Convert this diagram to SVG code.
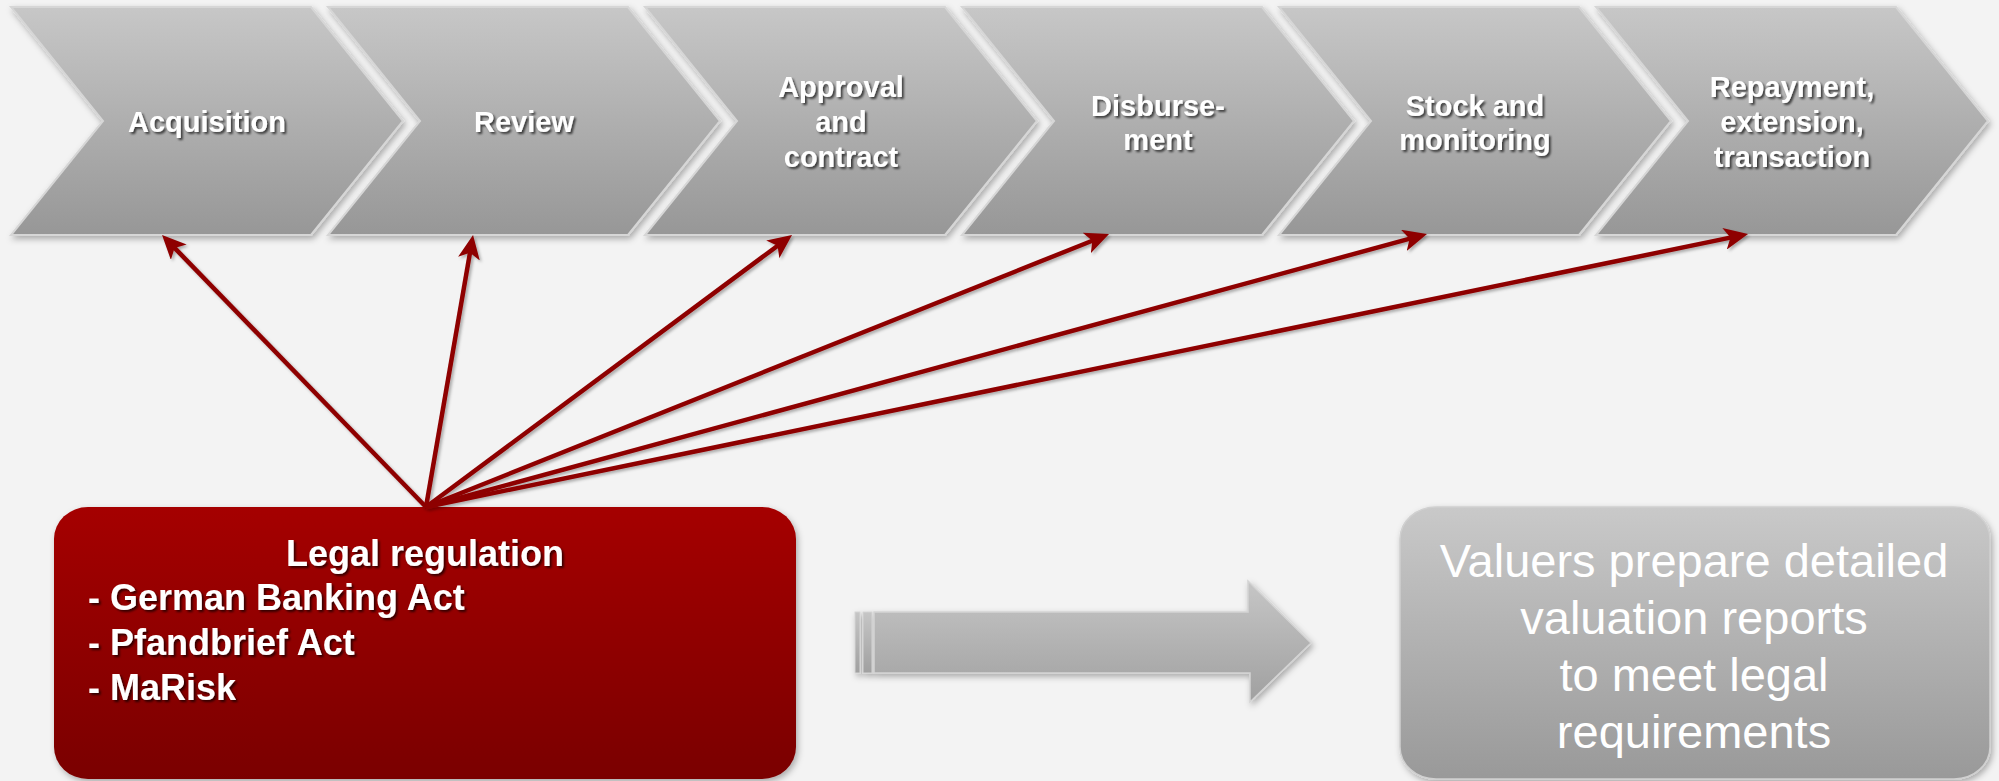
<svg xmlns="http://www.w3.org/2000/svg" width="1999" height="781" viewBox="0 0 1999 781">
<defs>
<linearGradient id="gChev" x1="0" y1="0" x2="0" y2="1">
<stop offset="0" stop-color="#c7c7c7"/>
<stop offset="1" stop-color="#979797"/>
</linearGradient>
<linearGradient id="gRed" x1="0" y1="0" x2="0" y2="1">
<stop offset="0" stop-color="#a50000"/>
<stop offset="1" stop-color="#7a0000"/>
</linearGradient>
<linearGradient id="gGray" x1="0" y1="0" x2="0" y2="1">
<stop offset="0" stop-color="#c9c9c9"/>
<stop offset="1" stop-color="#999999"/>
</linearGradient>
<linearGradient id="gArrow" x1="0" y1="0" x2="0" y2="1">
<stop offset="0" stop-color="#c6c6c6"/>
<stop offset="1" stop-color="#a0a0a0"/>
</linearGradient>
<filter id="shadow" x="-10%" y="-10%" width="120%" height="130%">
<feDropShadow dx="2" dy="3" stdDeviation="3" flood-color="#000" flood-opacity="0.3"/>
</filter>
<filter id="tshadow" x="-10%" y="-20%" width="120%" height="150%">
<feDropShadow dx="2" dy="2" stdDeviation="1.2" flood-color="#000" flood-opacity="0.65"/>
</filter>
<filter id="lshadow" x="-10%" y="-10%" width="120%" height="120%">
<feDropShadow dx="2" dy="2" stdDeviation="1.5" flood-color="#000" flood-opacity="0.3"/>
</filter>
<marker id="ah" viewBox="0 0 24 22" refX="12" refY="11" markerWidth="24" markerHeight="22" markerUnits="userSpaceOnUse" orient="auto">
<path d="M0,0 L24,11 L0,22 L6,11 Z" fill="#8e0000"/>
</marker>
</defs>
<style>
.chev{fill:url(#gChev);stroke:#d6d6d6;stroke-width:2;filter:url(#shadow)}
.ct{font-family:"Liberation Sans",Arial,sans-serif;font-weight:bold;font-size:29px;fill:#fff;text-anchor:middle;filter:url(#tshadow)}
.rt{font-family:"Liberation Sans",Arial,sans-serif;font-weight:bold;font-size:36px;fill:#fff;filter:url(#tshadow)}
.gt{font-family:"Liberation Sans",Arial,sans-serif;font-size:47px;fill:#fff;text-anchor:middle}
.conn line{stroke:#8e0000;stroke-width:4.5;fill:none;marker-end:url(#ah)}
</style>
<rect x="0" y="0" width="1999" height="781" fill="#f3f3f3"/>

<g id="acquisition">
<path class="chev" d="M11,7 L311,7 L403,121 L311,235 L11,235 L103,121 Z"/>
<text class="ct" x="207" y="132">Acquisition</text>
</g>
<g id="review">
<path class="chev" d="M328,7 L628,7 L720,121 L628,235 L328,235 L420,121 Z"/>
<text class="ct" x="524" y="132">Review</text>
</g>
<g id="approval">
<path class="chev" d="M645,7 L945,7 L1037,121 L945,235 L645,235 L737,121 Z"/>
<text class="ct" x="841" y="97">Approval</text>
<text class="ct" x="841" y="132">and</text>
<text class="ct" x="841" y="167">contract</text>
</g>
<g id="disbursement">
<path class="chev" d="M962,7 L1262,7 L1354,121 L1262,235 L962,235 L1054,121 Z"/>
<text class="ct" x="1158" y="116">Disburse-</text>
<text class="ct" x="1158" y="150">ment</text>
</g>
<g id="stock">
<path class="chev" d="M1279,7 L1579,7 L1671,121 L1579,235 L1279,235 L1371,121 Z"/>
<text class="ct" x="1475" y="116">Stock and</text>
<text class="ct" x="1475" y="150">monitoring</text>
</g>
<g id="repayment">
<path class="chev" d="M1596,7 L1896,7 L1988,121 L1896,235 L1596,235 L1688,121 Z"/>
<text class="ct" x="1792" y="97">Repayment,</text>
<text class="ct" x="1792" y="132">extension,</text>
<text class="ct" x="1792" y="167">transaction</text>
</g>

<g id="legal">
<rect x="54" y="507" width="742" height="272" rx="34" ry="32" fill="url(#gRed)" filter="url(#shadow)"/>
<text class="rt" x="425" y="566" text-anchor="middle">Legal regulation</text>
<text class="rt" x="88" y="610">- German Banking Act</text>
<text class="rt" x="88" y="655">- Pfandbrief Act</text>
<text class="rt" x="88" y="700">- MaRisk</text>
</g>

<g id="bigarrow" filter="url(#shadow)">
<rect x="855" y="612" width="5" height="61" fill="url(#gArrow)" stroke="#d4d4d4" stroke-width="1"/>
<rect x="863" y="612" width="9" height="61" fill="url(#gArrow)" stroke="#d4d4d4" stroke-width="1"/>
<path d="M874,612 L1248,612 L1248,581 L1311,643 L1250,702 L1250,673 L874,673 Z" fill="url(#gArrow)" stroke="#d4d4d4" stroke-width="1.5"/>
</g>

<g id="valuers">
<rect x="1400" y="507" width="590" height="272" rx="36" ry="32" fill="url(#gGray)" stroke="#d0d0d0" stroke-width="1.5" filter="url(#shadow)"/>
<text class="gt" x="1694" y="577">Valuers prepare detailed</text>
<text class="gt" x="1694" y="634">valuation reports</text>
<text class="gt" x="1694" y="691">to meet legal</text>
<text class="gt" x="1694" y="748">requirements</text>
</g>

<g id="connectors" class="conn" filter="url(#lshadow)">
<line x1="426" y1="507" x2="170.4" y2="243.6"/>
<line x1="426" y1="507" x2="471" y2="246.8"/>
<line x1="426" y1="507" x2="782.4" y2="242.2"/>
<line x1="426" y1="507" x2="1097.9" y2="238.5"/>
<line x1="426" y1="507" x2="1415.4" y2="237.2"/>
<line x1="426" y1="507" x2="1736.3" y2="236.4"/>
</g>
</svg>
